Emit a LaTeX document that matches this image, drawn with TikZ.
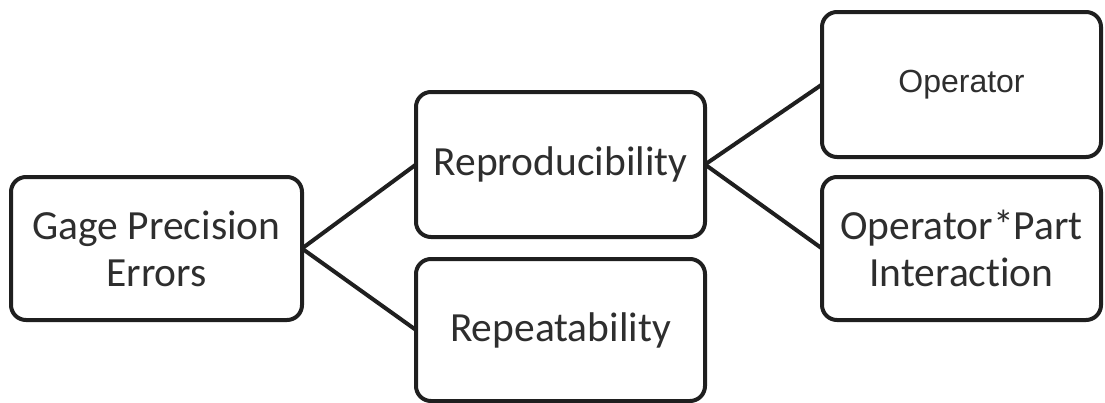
\documentclass[tikz,border=0pt]{standalone}
\usepackage{fontspec}
\setmainfont[Ligatures={NoCommon}]{Carlito}
\newfontfamily\armfont{Liberation Sans}
\begin{document}
\begin{tikzpicture}[x=1pt,y=-1pt,
  box/.style={draw=black!88, line width=4pt, rounded corners=15pt,
    inner sep=0pt, outer sep=0pt, align=center, text=black!82,
    font=\fontsize{41.5}{47}\selectfont},
  link/.style={draw=black!88, line width=4pt}]
  \useasboundingbox (0,0) rectangle (1105,402);
  % tree of gage precision error sources
  \node[box, minimum width=291pt, minimum height=143pt] (gage) at (156.5,248.5) {Gage Precision\\Errors};
  \node[box, minimum width=289pt, minimum height=145pt] (repro) at (560.5,164.5) {Reproducibility};
  \node[box, minimum width=289pt, minimum height=142pt] (repeat) at (560.5,330) {Repeatability};
  \node[box, minimum width=279pt, minimum height=145pt, font=\armfont\fontsize{32}{36}\selectfont] (oper) at (961.5,84.5) {Operator};
  \node[box, minimum width=279pt, minimum height=143pt] (inter) at (961.5,248.5) {Operator*Part\\Interaction};
  \draw[link] (gage.east) -- (repro.west);
  \draw[link] (gage.east) -- (repeat.west);
  \draw[link] (repro.east) -- (oper.west);
  \draw[link] (repro.east) -- (inter.west);
\end{tikzpicture}
\end{document}
